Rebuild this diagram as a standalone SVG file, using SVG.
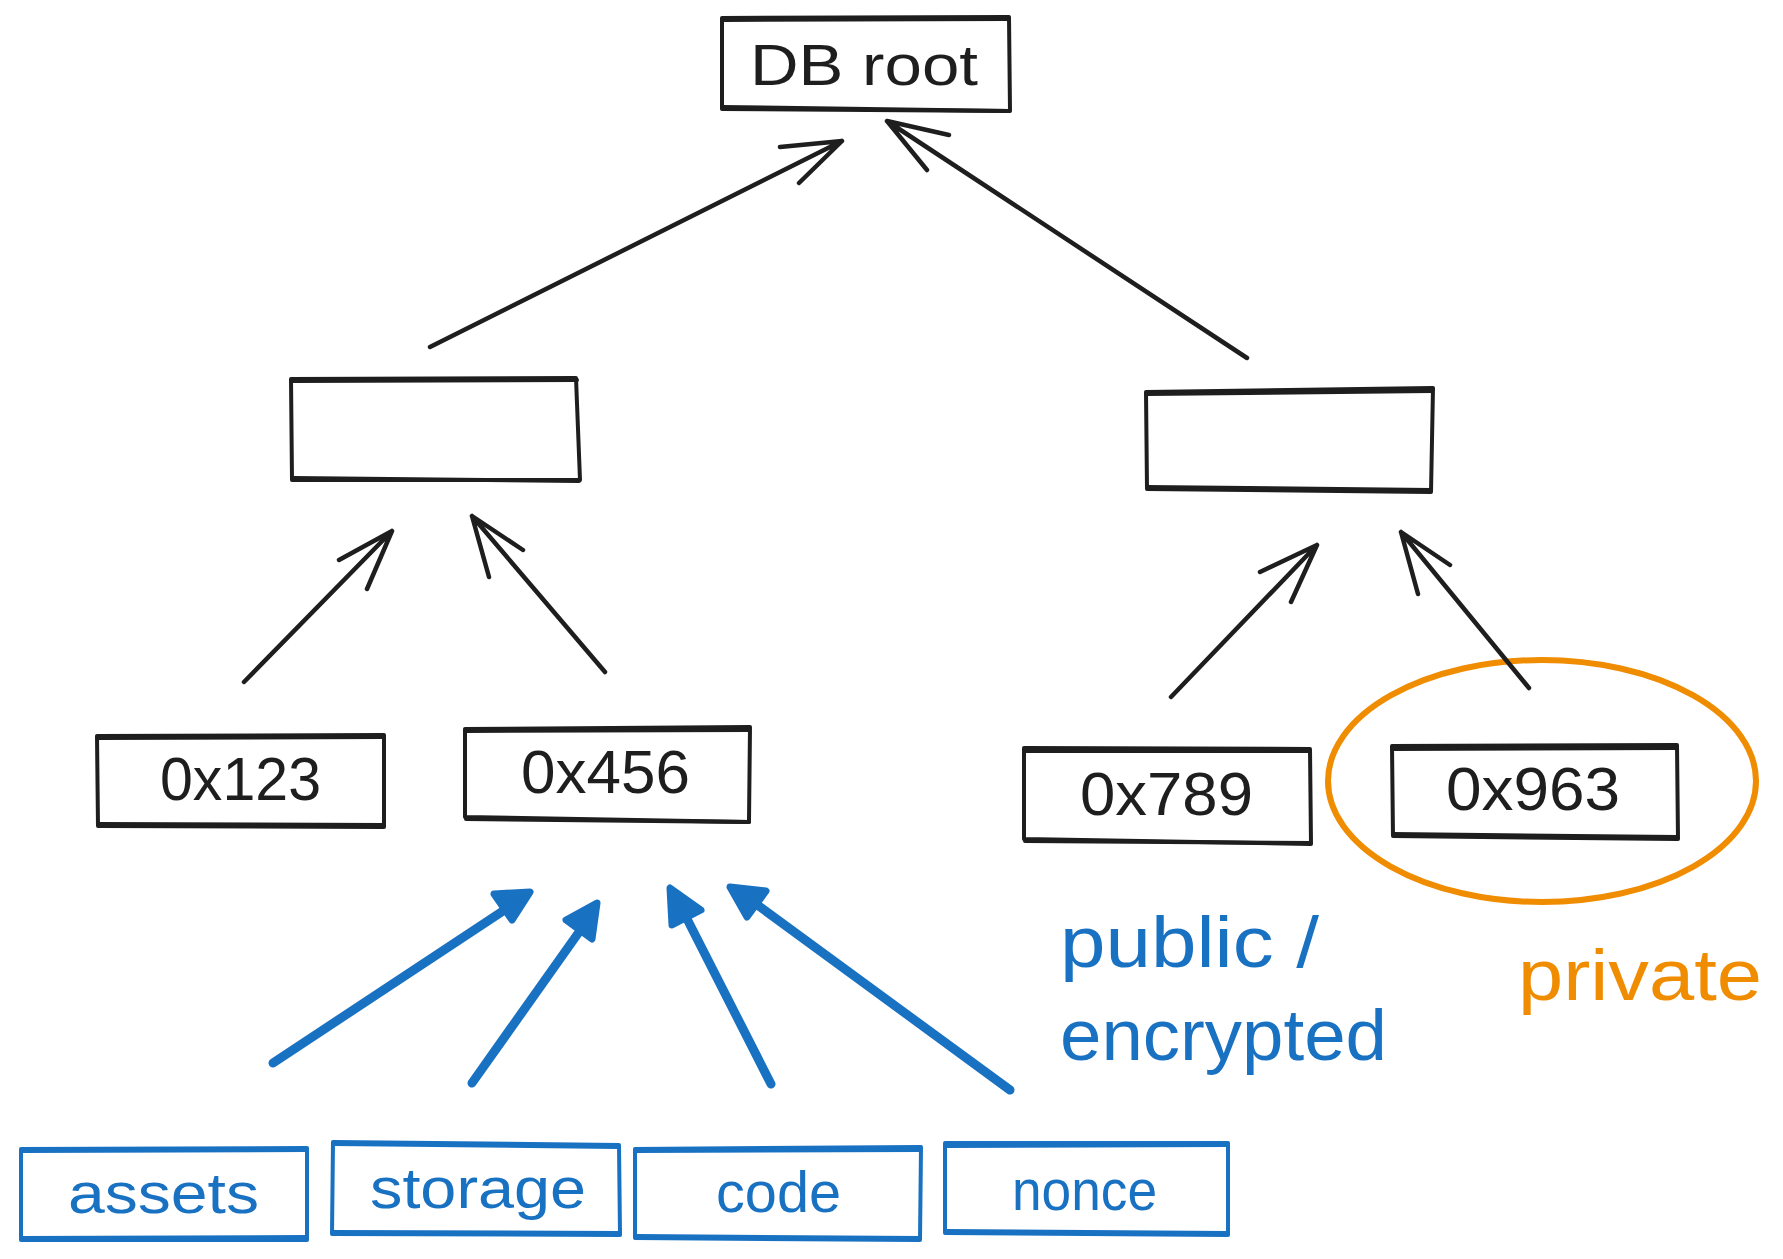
<svg xmlns="http://www.w3.org/2000/svg" width="1783" height="1259" viewBox="0 0 1783 1259">
<defs>
<style>
.bk{fill:none;stroke:#1e1e1e;stroke-width:4;stroke-linecap:round;stroke-linejoin:round}
.bkc{fill:none;stroke:#1e1e1e;stroke-width:4.5;stroke-linecap:round;stroke-linejoin:round}
.bl{fill:none;stroke:#1971c2;stroke-width:4;stroke-linecap:round;stroke-linejoin:round}
.bla{fill:none;stroke:#1971c2;stroke-width:9;stroke-linecap:round;stroke-linejoin:round}
.blh{fill:#1971c2;stroke:#1971c2;stroke-width:7;stroke-linejoin:round}
.or{fill:none;stroke:#f08c00;stroke-width:6}
.tk{font-family:"Liberation Sans",Arial,sans-serif;fill:#1e1e1e}
.tb{font-family:"Liberation Sans",Arial,sans-serif;fill:#1971c2}
.to{font-family:"Liberation Sans",Arial,sans-serif;fill:#f08c00}
</style>
</defs>
<rect width="1783" height="1259" fill="#ffffff"/>

<g id="node-dbroot">
<path class="bk" d="M722 18 L1009 17 L1010 111 L722 109 Z"/>
<path class="bk" d="M723 20 L1008 19 M722 107 L1009 111"/>
<text class="tk" x="750" y="85" font-size="58" textLength="228" lengthAdjust="spacingAndGlyphs">DB root</text>
</g>

<g id="node-left-mid">
<path class="bk" d="M291 379 L576 378 L580 480 L292 480 Z"/>
<path class="bk" d="M292 381 L577 380 M293 478 L579 481"/>
</g>

<g id="node-right-mid">
<path class="bk" d="M1146 392 L1433 388 L1431 492 L1147 489 Z"/>
<path class="bk" d="M1147 394 L1432 391 M1147 487 L1431 490"/>
</g>

<g id="node-0x123">
<path class="bk" d="M97 736 L384 735 L384 827 L98 826 Z"/>
<path class="bk" d="M98 738 L383 737 M98 824 L383 825"/>
<text class="tk" x="160" y="800" font-size="62" textLength="161" lengthAdjust="spacingAndGlyphs">0x123</text>
</g>

<g id="node-0x456">
<path class="bk" d="M465 729 L750 727 L749 822 L465 817 Z"/>
<path class="bk" d="M466 731 L749 730 M466 819 L749 822"/>
<text class="tk" x="521" y="793" font-size="62" textLength="169" lengthAdjust="spacingAndGlyphs">0x456</text>
</g>

<g id="node-0x789">
<path class="bk" d="M1024 748 L1310 749 L1311 844 L1024 839 Z"/>
<path class="bk" d="M1024 751 L1309 751 M1025 841 L1310 843"/>
<text class="tk" x="1080" y="815" font-size="62" textLength="173" lengthAdjust="spacingAndGlyphs">0x789</text>
</g>

<g id="node-0x963">
<path class="bk" d="M1392 746 L1677 745 L1678 839 L1393 836 Z"/>
<path class="bk" d="M1392 749 L1676 748 M1393 834 L1677 837"/>
<text class="tk" x="1446" y="810" font-size="62" textLength="174" lengthAdjust="spacingAndGlyphs">0x963</text>
</g>

<g id="private-circle">
<ellipse class="or" cx="1542" cy="781" rx="214" ry="121"/>
</g>

<g id="node-assets">
<path class="bl" d="M21 1149 L307 1148 L307 1240 L21 1240 Z"/>
<path class="bl" d="M22 1151 L306 1150 M22 1238 L306 1237"/>
<text class="tb" x="68" y="1213" font-size="58" textLength="191" lengthAdjust="spacingAndGlyphs">assets</text>
</g>

<g id="node-storage">
<path class="bl" d="M333 1142 L619 1145 L620 1235 L332 1234 Z"/>
<path class="bl" d="M334 1144 L618 1147 M333 1232 L619 1233"/>
<text class="tb" x="370" y="1208" font-size="58" textLength="216" lengthAdjust="spacingAndGlyphs">storage</text>
</g>

<g id="node-code">
<path class="bl" d="M635 1149 L921 1147 L920 1240 L635 1238 Z"/>
<path class="bl" d="M636 1151 L920 1150 M636 1236 L920 1238"/>
<text class="tb" x="716" y="1212" font-size="58" textLength="125" lengthAdjust="spacingAndGlyphs">code</text>
</g>

<g id="node-nonce">
<path class="bl" d="M945 1143 L1228 1143 L1228 1235 L945 1233 Z"/>
<path class="bl" d="M945 1146 L1227 1145 M946 1231 L1227 1233"/>
<text class="tb" x="1012" y="1210" font-size="58" textLength="145" lengthAdjust="spacingAndGlyphs">nonce</text>
</g>

<g id="label-public">
<text class="tb" x="1060" y="967" font-size="72" textLength="259" lengthAdjust="spacingAndGlyphs">public /</text>
<text class="tb" x="1060" y="1060" font-size="72" textLength="327" lengthAdjust="spacingAndGlyphs">encrypted</text>
</g>

<g id="label-private">
<text class="to" x="1518" y="1000" font-size="72" textLength="244" lengthAdjust="spacingAndGlyphs">private</text>
</g>

<g id="connectors">
<path class="bkc" d="M430 347 L842 141 M780 147 L842 141 L799 183"/>
<path class="bkc" d="M1247 358 L887 121 M949 135 L887 121 L927 170"/>
<path class="bkc" d="M244 682 L392 531 M339 560 L392 531 L367 589"/>
<path class="bkc" d="M605 672 L472 516 M523 550 L472 516 L489 577"/>
<path class="bkc" d="M1171 697 L1317 545 M1260 572 L1317 545 L1291 602"/>
<path class="bkc" d="M1529 688 L1401 532 M1450 565 L1401 532 L1418 594"/>
<path class="bla" d="M273 1063 L512 905"/>
<path class="blh" d="M530 892 L494 894 L512 920 Z"/>
<path class="bla" d="M472 1083 L584 925"/>
<path class="blh" d="M597 903 L566 920 L592 939 Z"/>
<path class="bla" d="M771 1084 L683 911"/>
<path class="blh" d="M670 888 L672 925 L701 910 Z"/>
<path class="bla" d="M1010 1090 L752 901"/>
<path class="blh" d="M730 887 L747 917 L766 891 Z"/>
</g>
</svg>
